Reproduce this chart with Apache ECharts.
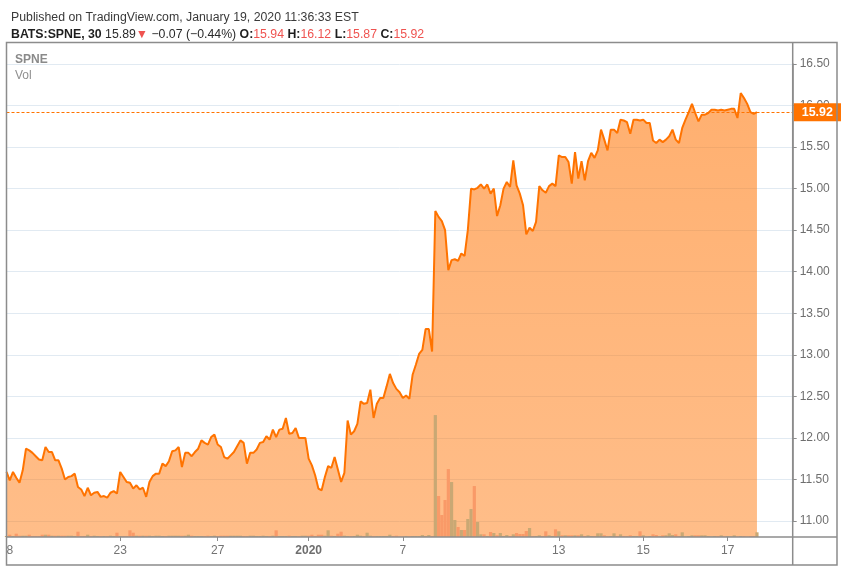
<!DOCTYPE html>
<html>
<head>
<meta charset="utf-8">
<title>SPNE 30m</title>
<script src="https://cdn.jsdelivr.net/npm/echarts@6/dist/echarts.min.js"></script>
<style>
  html, body { margin: 0; padding: 0; background: #fff; }
  #chart { width: 846px; height: 572px; }
</style>
</head>
<body>
<div id="chart"></div>
<script>
"use strict";

// 30 minute closes, Dec 18 2019 -> Jan 17 2020
var closes = [
  11.59, 11.49, 11.59, 11.52, 11.46, 11.61, 11.87, 11.85, 11.82, 11.78,
  11.74, 11.73, 11.89, 11.83, 11.83, 11.73, 11.73, 11.63, 11.50, 11.53,
  11.54, 11.57, 11.41, 11.38, 11.30, 11.40, 11.31, 11.34, 11.35, 11.29,
  11.30, 11.28, 11.34, 11.36, 11.33, 11.59, 11.53, 11.47, 11.46, 11.39,
  11.43, 11.38, 11.40, 11.29, 11.47, 11.54, 11.57, 11.57, 11.69, 11.66,
  11.72, 11.84, 11.85, 11.89, 11.65, 11.82, 11.82, 11.78, 11.83, 11.87,
  11.97, 11.94, 11.92, 12.01, 12.04, 11.92, 11.89, 11.77, 11.75, 11.79,
  11.83, 11.90, 11.97, 11.94, 11.69, 11.82, 11.82, 11.86, 11.94, 11.95,
  12.02, 11.98, 12.10, 12.01, 12.10, 12.11, 12.24, 12.05, 12.06, 12.12,
  12.00, 12.00, 12.00, 11.75, 11.67, 11.55, 11.39, 11.37, 11.53, 11.66,
  11.64, 11.77, 11.62, 11.47, 11.58, 12.21, 12.04, 12.08, 12.17, 12.44,
  12.41, 12.42, 12.58, 12.24, 12.41, 12.48, 12.48, 12.62, 12.77, 12.66,
  12.59, 12.55, 12.48, 12.51, 12.47, 12.76, 12.88, 13.01, 13.06, 13.31,
  13.31, 13.04, 14.73, 14.66, 14.61, 14.50, 14.02, 14.14, 14.15, 14.13,
  14.22, 14.19, 14.50, 15.00, 14.99, 15.01, 15.05, 15.00, 15.05, 14.94,
  15.00, 14.67, 14.80, 15.00, 15.08, 15.02, 15.34, 15.04, 14.94, 14.80,
  14.45, 14.53, 14.49, 14.60, 15.03, 14.98, 14.95, 15.03, 15.06, 15.03,
  15.40, 15.38, 15.38, 15.32, 15.06, 15.44, 15.12, 15.33, 15.10, 15.33,
  15.43, 15.37, 15.46, 15.71, 15.59, 15.46, 15.71, 15.71, 15.67, 15.83,
  15.82, 15.80, 15.66, 15.83, 15.83, 15.82, 15.83, 15.79, 15.79, 15.58,
  15.55, 15.59, 15.56, 15.59, 15.63, 15.71, 15.59, 15.55, 15.73, 15.83,
  15.92, 16.02, 15.91, 15.81, 15.89, 15.89, 15.91, 15.95, 15.95, 15.94,
  15.95, 15.94, 15.95, 15.96, 15.96, 15.85, 16.15, 16.09, 16.02, 15.92,
  15.90, 15.92
];

// volume per bar (shares)
var volumes = [
  200, 460, 200, 660, 260, 260, 260, 460, 200, 200,
  200, 460, 460, 460, 260, 260, 260, 260, 260, 260,
  260, 200, 1060, 200, 200, 460, 200, 260, 200, 200,
  200, 200, 260, 200, 860, 200, 200, 200, 1340, 860,
  260, 260, 260, 260, 260, 200, 260, 260, 200, 200,
  260, 260, 260, 260, 260, 260, 460, 260, 200, 200,
  200, 200, 260, 200, 260, 200, 260, 260, 260, 260,
  260, 260, 260, 200, 200, 260, 260, 200, 200, 260,
  200, 200, 260, 1340, 200, 200, 200, 260, 200, 200,
  200, 260, 260, 260, 460, 200, 460, 460, 260, 1340,
  260, 200, 660, 1060, 260, 200, 200, 200, 460, 260,
  200, 860, 260, 200, 200, 200, 200, 200, 460, 200,
  260, 100, 100, 200, 200, 200, 200, 200, 400, 200,
  400, 200, 24400, 8200, 4400, 7400, 13600, 11000, 3400, 2000,
  1400, 1400, 3600, 5600, 10200, 3000, 540, 540, 200, 1000,
  800, 340, 800, 200, 400, 200, 540, 800, 600, 600,
  1200, 1800, 200, 200, 340, 200, 1140, 340, 200, 1540,
  1140, 340, 340, 340, 340, 340, 340, 540, 200, 340,
  200, 200, 740, 740, 340, 140, 200, 740, 200, 540,
  200, 200, 340, 200, 200, 1140, 340, 100, 200, 540,
  400, 100, 340, 340, 740, 400, 540, 200, 940, 100,
  200, 340, 340, 340, 340, 340, 200, 100, 200, 200,
  340, 100, 200, 100, 340, 100, 200, 200, 100, 200,
  200, 940
];

var tickIndex = [0, 35, 65, 93, 122, 170, 196, 222];
var tickLabels = ['8', '23', '27', '2020', '7', '13', '15', '17'];
var priceTicks = [11, 16.5];
var lastPrice = 15.92;
var emptySlots = 11;

var lineColor = '#ff7300';
var upVol = '#c9a874';
var downVol = '#f99a68';
var frameColor = '#8c8c8c';

var categories = [];
for (var i = 0; i < closes.length + emptySlots; i++) {
  categories.push(String(i));
}

var volumeData = volumes.map(function(v, i) {
  var up = i === 0 || closes[i] >= closes[i - 1];
  return { value: v, itemStyle: { color: up ? upVol : downVol } };
});

// pixel rows of the price scale: 11.00 at y=521, 16.50 at y=64
var plotTop = 42.3, plotBottom = 537;
var pxPerUnit = (521 - 64) / (priceTicks[1] - priceTicks[0]);
var priceMin = priceTicks[0] - (plotBottom - 521) / pxPerUnit;
var priceMax = priceTicks[1] + (64 - plotTop) / pxPerUnit;

var isTick = function(index) {
  return tickIndex.indexOf(index) !== -1;
};

var hiddenAxis = {
  show: false,
  axisLine: { show: false },
  axisTick: { show: false },
  axisLabel: { show: false },
  splitLine: { show: false }
};

var chart = echarts.init(document.getElementById('chart'), null, { renderer: 'canvas' });

var option = {
  animation: false,
  backgroundColor: '#fff',
  textStyle: { fontFamily: 'Liberation Sans, Arial, sans-serif' },
  title: {
    left: 6,
    top: 4,
    text: '{a|Published on TradingView.com, January 19, 2020 11:36:33 EST}\n' +
      '{b|BATS:SPNE, 30} {n|15.89}{r|\u25BC}{n| \u22120.07 (\u22120.44%)} ' +
      '{b|O:}{r|15.94} {b|H:}{r|16.12} {b|L:}{r|15.87} {b|C:}{r|15.92}',
    textStyle: {
      fontSize: 12.3,
      fontWeight: 'normal',
      color: '#222',
      lineHeight: 17,
      rich: {
        a: { fontSize: 12.3, color: '#3a3a3a', lineHeight: 17 },
        b: { fontSize: 12.3, color: '#1e1e1e', fontWeight: 'bold', lineHeight: 17 },
        n: { fontSize: 12.3, color: '#2a2a2a', lineHeight: 17 },
        r: { fontSize: 12.3, color: '#ef5350', lineHeight: 17 }
      }
    }
  },
  grid: [
    { left: 6.5, right: 53.3, top: plotTop, bottom: 572 - plotBottom },
    { left: 6.5, right: 53.3, top: 64, bottom: 572 - 521 }
  ],
  xAxis: [
    {
      type: 'category',
      gridIndex: 0,
      data: categories,
      boundaryGap: false,
      axisLine: { show: false },
      axisTick: {
        show: true,
        length: 4,
        interval: function(index) { return isTick(index); },
        lineStyle: { color: frameColor, width: 1 }
      },
      axisLabel: {
        interval: function(index) { return isTick(index); },
        margin: 8,
        fontSize: 12,
        color: '#737373',
        alignMinLabel: 'left',
        formatter: function(value, index) {
          var k = tickIndex.indexOf(index);
          if (k === -1) return '';
          if (tickLabels[k] === '2020') return '{y|2020}';
          return tickLabels[k];
        },
        rich: {
          y: { fontSize: 12, fontWeight: 'bold', color: '#6e6e6e' }
        }
      },
      splitLine: { show: false }
    },
    Object.assign({ type: 'value', gridIndex: 1, min: 0, max: 1 }, hiddenAxis)
  ],
  yAxis: [
    Object.assign({ type: 'value', gridIndex: 0, position: 'right', min: priceMin, max: priceMax }, hiddenAxis),
    Object.assign({ type: 'value', gridIndex: 0, position: 'left', min: 0, max: 99000 }, hiddenAxis),
    {
      type: 'value',
      gridIndex: 1,
      position: 'right',
      min: priceTicks[0],
      max: priceTicks[1],
      interval: 0.5,
      axisLine: { show: true, onZero: false, lineStyle: { color: frameColor, width: 1.5 } },
      axisTick: { show: true, inside: false, length: 4, lineStyle: { color: frameColor, width: 1 } },
      axisLabel: {
        margin: 7,
        fontSize: 12,
        color: '#6e6e6e',
        formatter: function(v) { return v.toFixed(2); }
      },
      splitLine: { show: true, lineStyle: { color: '#e1eaf2', width: 1 } }
    }
  ],
  series: [
    {
      name: 'SPNE',
      type: 'line',
      xAxisIndex: 0,
      yAxisIndex: 0,
      z: 2,
      data: closes,
      symbol: 'none',
      smooth: false,
      lineStyle: { color: lineColor, width: 2 },
      areaStyle: {
        origin: 'start',
        opacity: 1,
        color: new echarts.graphic.LinearGradient(0, 0, 0, 1, [
          { offset: 0, color: 'rgba(255,118,8,0.58)' },
          { offset: 1, color: 'rgba(255,118,8,0.48)' }
        ])
      },
      markLine: {
        silent: true,
        symbol: ['none', 'none'],
        lineStyle: { color: lineColor, width: 1, type: [3, 2] },
        label: {
          show: true,
          position: 'end',
          distance: 1,
          formatter: function() { return lastPrice.toFixed(2); },
          color: '#fff',
          fontWeight: 'bold',
          fontSize: 12.5,
          backgroundColor: lineColor,
          padding: [3, 8, 2, 8]
        },
        data: [{ yAxis: lastPrice }]
      }
    },
    {
      name: 'Vol',
      type: 'bar',
      xAxisIndex: 0,
      yAxisIndex: 1,
      z: 4,
      data: volumeData,
      barCategoryGap: '0%',
      barWidth: 3.2
    }
  ],
  graphic: [
    {
      type: 'text', left: 15, top: 54, z: 50,
      style: { text: 'SPNE', fill: '#8a8a8a', font: 'bold 12px Liberation Sans, Arial, sans-serif' }
    },
    {
      type: 'text', left: 15, top: 70, z: 50,
      style: { text: 'Vol', fill: '#8f8f8f', font: '12px Liberation Sans, Arial, sans-serif' }
    },
    {
      type: 'rect', z: 100, silent: true,
      shape: { x: 6.5, y: 42.5, width: 830.5, height: 522.5 },
      style: { fill: 'none', stroke: frameColor, lineWidth: 1.5 }
    },
    {
      type: 'line', z: 100, silent: true,
      shape: { x1: 792.7, y1: 42.5, x2: 792.7, y2: 565 },
      style: { stroke: frameColor, lineWidth: 1.5 }
    },
    {
      type: 'line', z: 100, silent: true,
      shape: { x1: 6.5, y1: 537, x2: 837, y2: 537 },
      style: { stroke: frameColor, lineWidth: 1.5 }
    }
  ]
};

chart.setOption(option);
</script>
</body>
</html>
